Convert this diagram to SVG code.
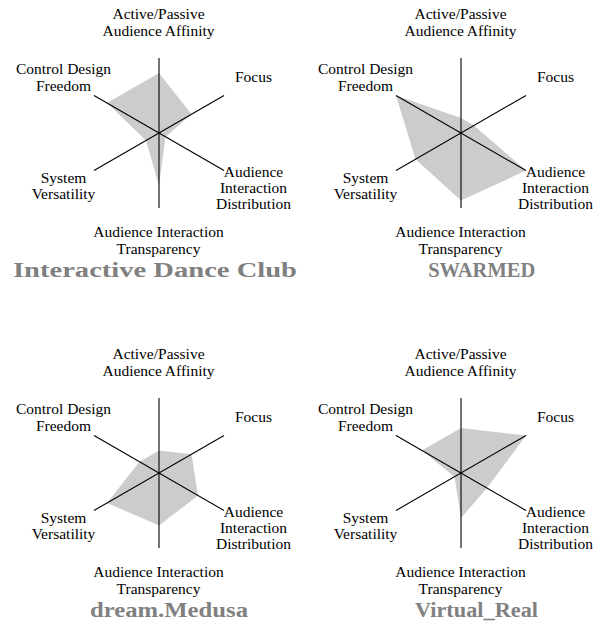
<svg xmlns="http://www.w3.org/2000/svg" width="603" height="630" viewBox="0 0 603 630">
<style>
.area{fill:#cccccc;stroke:none}
.axis{stroke:#000;stroke-width:1.1;fill:none}
.lbl{font-family:"Liberation Serif","Times New Roman",serif;font-size:15.5px;fill:#000;text-anchor:middle}
.ttl{font-family:"Liberation Serif","Times New Roman",serif;font-size:20px;font-weight:bold;fill:#808080;text-anchor:middle}
</style>
<defs>
<g id="axes">
<line class="axis" x1="0" y1="-75" x2="0" y2="75"/>
<line class="axis" x1="-65" y1="-37.5" x2="65" y2="37.5"/>
<line class="axis" x1="-65" y1="37.5" x2="65" y2="-37.5"/>
</g>
</defs>
<g id="chart-interactive-dance-club">
<polygon class="area" points="159,73 191.5,114.25 165.5,136.75 159,185.5 146,140.5 107,103"/>
<use href="#axes" x="159" y="133"/>
<text class="lbl" x="158.5" y="19">Active/Passive</text>
<text class="lbl" x="158.5" y="36">Audience Affinity</text>
<text class="lbl" x="63.5" y="74">Control Design</text>
<text class="lbl" x="63.5" y="90.7">Freedom</text>
<text class="lbl" x="253.5" y="82.3">Focus</text>
<text class="lbl" x="63.5" y="182.7">System</text>
<text class="lbl" x="63.5" y="199.3">Versatility</text>
<text class="lbl" x="253.5" y="176.7">Audience</text>
<text class="lbl" x="253.5" y="193">Interaction</text>
<text class="lbl" x="253.5" y="209.3">Distribution</text>
<text class="lbl" x="158.5" y="237.3">Audience Interaction</text>
<text class="lbl" x="158.5" y="254">Transparency</text>
<text class="ttl" x="155" y="277" textLength="284" lengthAdjust="spacingAndGlyphs">Interactive Dance Club</text>
</g>
<g id="chart-swarmed">
<polygon class="area" points="461,118 474,125.5 526,170.5 461,200.5 415.5,159.25 396,95.5"/>
<use href="#axes" x="461" y="133"/>
<text class="lbl" x="460.5" y="19">Active/Passive</text>
<text class="lbl" x="460.5" y="36">Audience Affinity</text>
<text class="lbl" x="365.5" y="74">Control Design</text>
<text class="lbl" x="365.5" y="90.7">Freedom</text>
<text class="lbl" x="555.5" y="82.3">Focus</text>
<text class="lbl" x="365.5" y="182.7">System</text>
<text class="lbl" x="365.5" y="199.3">Versatility</text>
<text class="lbl" x="555.5" y="176.7">Audience</text>
<text class="lbl" x="555.5" y="193">Interaction</text>
<text class="lbl" x="555.5" y="209.3">Distribution</text>
<text class="lbl" x="460.5" y="237.3">Audience Interaction</text>
<text class="lbl" x="460.5" y="254">Transparency</text>
<text class="ttl" x="481.7" y="277" textLength="107" lengthAdjust="spacingAndGlyphs">SWARMED</text>
</g>
<g id="chart-dream-medusa">
<polygon class="area" points="159,450.5 191.5,454.25 198,495.5 159,525.5 107,503 139.5,461.75"/>
<use href="#axes" x="159" y="473"/>
<text class="lbl" x="158.5" y="359">Active/Passive</text>
<text class="lbl" x="158.5" y="376">Audience Affinity</text>
<text class="lbl" x="63.5" y="414">Control Design</text>
<text class="lbl" x="63.5" y="430.7">Freedom</text>
<text class="lbl" x="253.5" y="422.3">Focus</text>
<text class="lbl" x="63.5" y="522.7">System</text>
<text class="lbl" x="63.5" y="539.3">Versatility</text>
<text class="lbl" x="253.5" y="516.7">Audience</text>
<text class="lbl" x="253.5" y="533">Interaction</text>
<text class="lbl" x="253.5" y="549.3">Distribution</text>
<text class="lbl" x="158.5" y="577.3">Audience Interaction</text>
<text class="lbl" x="158.5" y="594">Transparency</text>
<text class="ttl" x="169" y="617" textLength="158" lengthAdjust="spacingAndGlyphs">dream.Medusa</text>
</g>
<g id="chart-virtual-real">
<polygon class="area" points="461,428 526,435.5 487,488 461,518 454.5,476.75 422,450.5"/>
<use href="#axes" x="461" y="473"/>
<text class="lbl" x="460.5" y="359">Active/Passive</text>
<text class="lbl" x="460.5" y="376">Audience Affinity</text>
<text class="lbl" x="365.5" y="414">Control Design</text>
<text class="lbl" x="365.5" y="430.7">Freedom</text>
<text class="lbl" x="555.5" y="422.3">Focus</text>
<text class="lbl" x="365.5" y="522.7">System</text>
<text class="lbl" x="365.5" y="539.3">Versatility</text>
<text class="lbl" x="555.5" y="516.7">Audience</text>
<text class="lbl" x="555.5" y="533">Interaction</text>
<text class="lbl" x="555.5" y="549.3">Distribution</text>
<text class="lbl" x="460.5" y="577.3">Audience Interaction</text>
<text class="lbl" x="460.5" y="594">Transparency</text>
<text class="ttl" x="476.5" y="617" textLength="123" lengthAdjust="spacingAndGlyphs">Virtual_Real</text>
</g>
</svg>
